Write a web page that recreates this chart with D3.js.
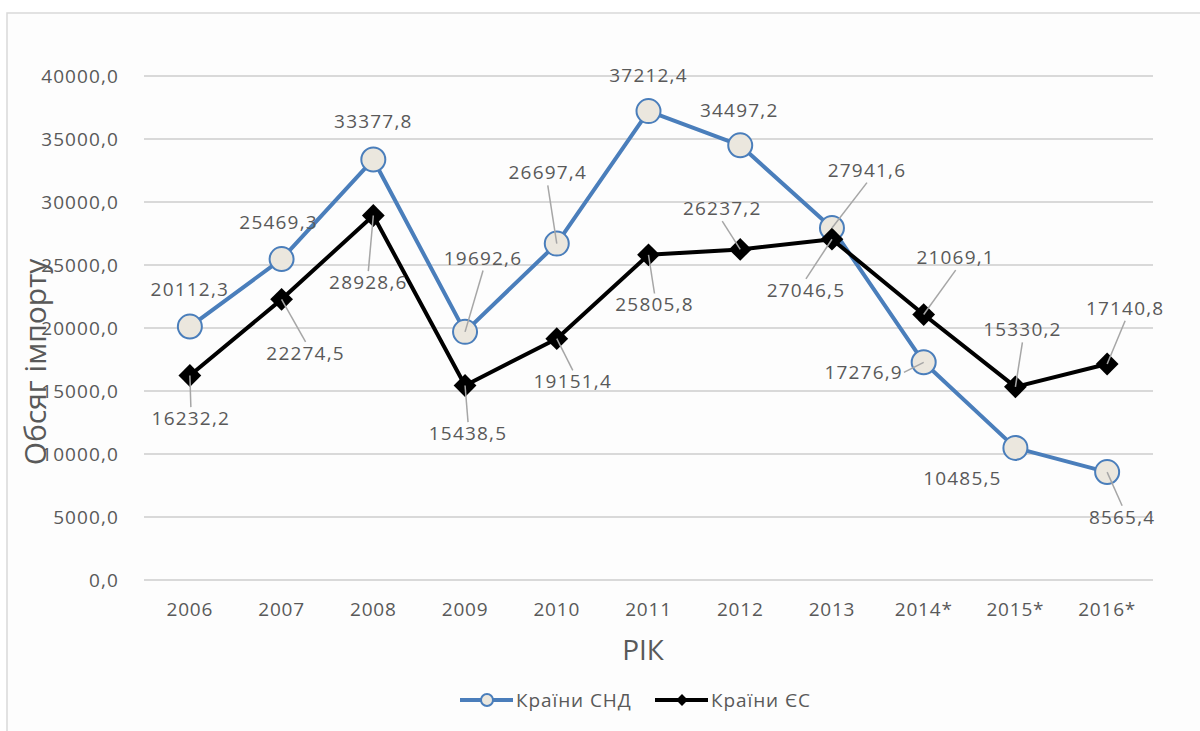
<!DOCTYPE html>
<html lang="uk">
<head>
<meta charset="utf-8">
<title>Обсяг імпорту</title>
<script src="https://cdn.jsdelivr.net/npm/d3@7/dist/d3.min.js"></script>
<style>
  body { margin: 0; background: #fff; }
  text { font-family: "Open Sans", sans-serif; fill: #595959; }
  .grid line { stroke: #d9d9d9; stroke-width: 2; }
</style>
</head>
<body>
<script>
// дані
var years = ["2006", "2007", "2008", "2009", "2010", "2011", "2012", "2013", "2014*", "2015*", "2016*"];
var cisValues = [20112.3, 25469.3, 33377.8, 19692.6, 26697.4, 37212.4, 34497.2, 27941.6, 17276.9, 10485.5, 8565.4];
var euValues = [16232.2, 22274.5, 28928.6, 15438.5, 19151.4, 25805.8, 26237.2, 27046.5, 21069.1, 15330.2, 17140.8];
var yTicks = [0, 5000, 10000, 15000, 20000, 25000, 30000, 35000, 40000];

// зсуви підписів (центр тексту відносно точки) і чи є лінія-виноска
var cisLabelPos = [[0, -37], [-3, -37], [0, -38], [18, -74], [-9, -71], [0, -36], [-1, -35], [35, -58], [-60, 10], [-53, 30], [15, 45]];
var cisLeader = [0, 0, 0, 1, 1, 0, 0, 1, 1, 0, 1];
var euLabelPos = [[1, 43], [24, 54], [-5, 67], [3, 48], [16, 43], [6, 50], [-18, -41], [-26, 51], [32, -57], [7, -57], [18, -56]];
var euLeader = [1, 1, 1, 1, 1, 1, 1, 1, 1, 1, 1];

var width = 1200, height = 731;
var margin = { left: 144, right: 47, top: 76, bottom: 151 };

var svg = d3.select("body").append("svg")
    .attr("width", width)
    .attr("height", height);

// рамка
svg.append("rect")
    .attr("x", 7).attr("y", 13)
    .attr("width", 1200).attr("height", 730)
    .attr("fill", "#fdfdfd")
    .attr("stroke", "#d9d9d9")
    .attr("stroke-width", 1.5);

var x = d3.scaleBand()
    .domain(years)
    .range([margin.left, width - margin.right]);

var y = d3.scaleLinear()
    .domain([0, 40000])
    .range([height - margin.bottom, margin.top]);

function cx(i) { return x(years[i]) + x.bandwidth() / 2; }
function fmt(v) { return d3.format(".1f")(v).replace(".", ","); }

// сітка
svg.append("g").attr("class", "grid")
    .selectAll("line").data(yTicks).enter().append("line")
    .attr("x1", margin.left).attr("x2", width - margin.right)
    .attr("y1", function (d) { return y(d); })
    .attr("y2", function (d) { return y(d); });

// вісь Y
var yAxis = svg.append("g")
    .attr("transform", "translate(" + (margin.left - 22) + ",0)")
    .call(d3.axisLeft(y).tickValues(yTicks).tickSize(0).tickFormat(fmt));
yAxis.select(".domain").remove();
yAxis.selectAll("text").attr("font-size", 19).attr("letter-spacing", 1.1)
    .attr("font-family", null).attr("fill", null).attr("dx", 0);

// вісь X
var xAxis = svg.append("g")
    .attr("transform", "translate(0," + (height - margin.bottom + 19) + ")")
    .call(d3.axisBottom(x).tickSize(0));
xAxis.select(".domain").remove();
xAxis.selectAll("text").attr("font-size", 19).attr("letter-spacing", 0.8)
    .attr("font-family", null).attr("fill", null);

// назви осей
svg.append("text")
    .attr("transform", "translate(46,362) rotate(-90)")
    .attr("text-anchor", "middle")
    .attr("font-size", 30)
    .text("Обсяг імпорту");

svg.append("text")
    .attr("x", 643).attr("y", 660)
    .attr("text-anchor", "middle")
    .attr("font-size", 28)
    .text("РІК");

// лінії
var line = d3.line()
    .x(function (d, i) { return cx(i); })
    .y(function (d) { return y(d); });

svg.append("path").datum(cisValues)
    .attr("d", line)
    .attr("fill", "none")
    .attr("stroke", "#4a7ebb")
    .attr("stroke-width", 4)
    .attr("stroke-linejoin", "round");

svg.append("path").datum(euValues)
    .attr("d", line)
    .attr("fill", "none")
    .attr("stroke", "#000")
    .attr("stroke-width", 4)
    .attr("stroke-linejoin", "round");

// маркери
svg.append("g").selectAll("circle").data(cisValues).enter().append("circle")
    .attr("cx", function (d, i) { return cx(i); })
    .attr("cy", function (d) { return y(d); })
    .attr("r", 12)
    .attr("fill", "#ebe7de")
    .attr("stroke", "#4a7ebb")
    .attr("stroke-width", 2);

var diamond = d3.symbol().type(d3.symbolSquare).size(260);
svg.append("g").selectAll("path").data(euValues).enter().append("path")
    .attr("d", diamond)
    .attr("transform", function (d, i) { return "translate(" + cx(i) + "," + y(d) + ") rotate(45)"; })
    .attr("fill", "#000");

// підписи з лініями-виносками
function addLabels(values, pos, leader) {
    var g = svg.append("g");
    values.forEach(function (v, i) {
        var px = cx(i), py = y(v);
        var tx = px + pos[i][0], ty = py + pos[i][1];
        var t = g.append("text")
            .attr("x", tx).attr("y", ty)
            .attr("dy", "0.35em")
            .attr("text-anchor", "middle")
            .attr("font-size", 19)
            .attr("letter-spacing", 1.2)
            .text(fmt(v));
        if (!leader[i]) return;
        var b = t.node().getBBox();
        var ex, ey;
        if (py > b.y + b.height) { ex = tx; ey = b.y + b.height; }
        else if (py < b.y) { ex = tx; ey = b.y + 2; }
        else if (px > tx) { ex = b.x + b.width + 1; ey = ty; }
        else { ex = b.x - 1; ey = ty; }
        g.append("line")
            .attr("x1", ex).attr("y1", ey)
            .attr("x2", px).attr("y2", py)
            .attr("stroke", "#a6a6a6")
            .attr("stroke-width", 1.5);
    });
}
addLabels(cisValues, cisLabelPos, cisLeader);
addLabels(euValues, euLabelPos, euLeader);

// легенда
var legend = svg.append("g").attr("transform", "translate(0,700)");
legend.append("line").attr("x1", 460).attr("x2", 513)
    .attr("stroke", "#4a7ebb").attr("stroke-width", 4);
legend.append("circle").attr("cx", 487).attr("r", 6)
    .attr("fill", "#ebe7de").attr("stroke", "#4a7ebb").attr("stroke-width", 2);
legend.append("text").attr("x", 516).attr("dy", "0.35em")
    .attr("font-size", 19).attr("letter-spacing", 0.9).text("Країни СНД");
legend.append("line").attr("x1", 655).attr("x2", 708)
    .attr("stroke", "#000").attr("stroke-width", 4);
legend.append("path").attr("d", d3.symbol().type(d3.symbolSquare).size(70))
    .attr("transform", "translate(682,0) rotate(45)").attr("fill", "#000");
legend.append("text").attr("x", 711).attr("dy", "0.35em")
    .attr("font-size", 19).attr("letter-spacing", 0.9).text("Країни ЄС");
</script>
</body>
</html>
